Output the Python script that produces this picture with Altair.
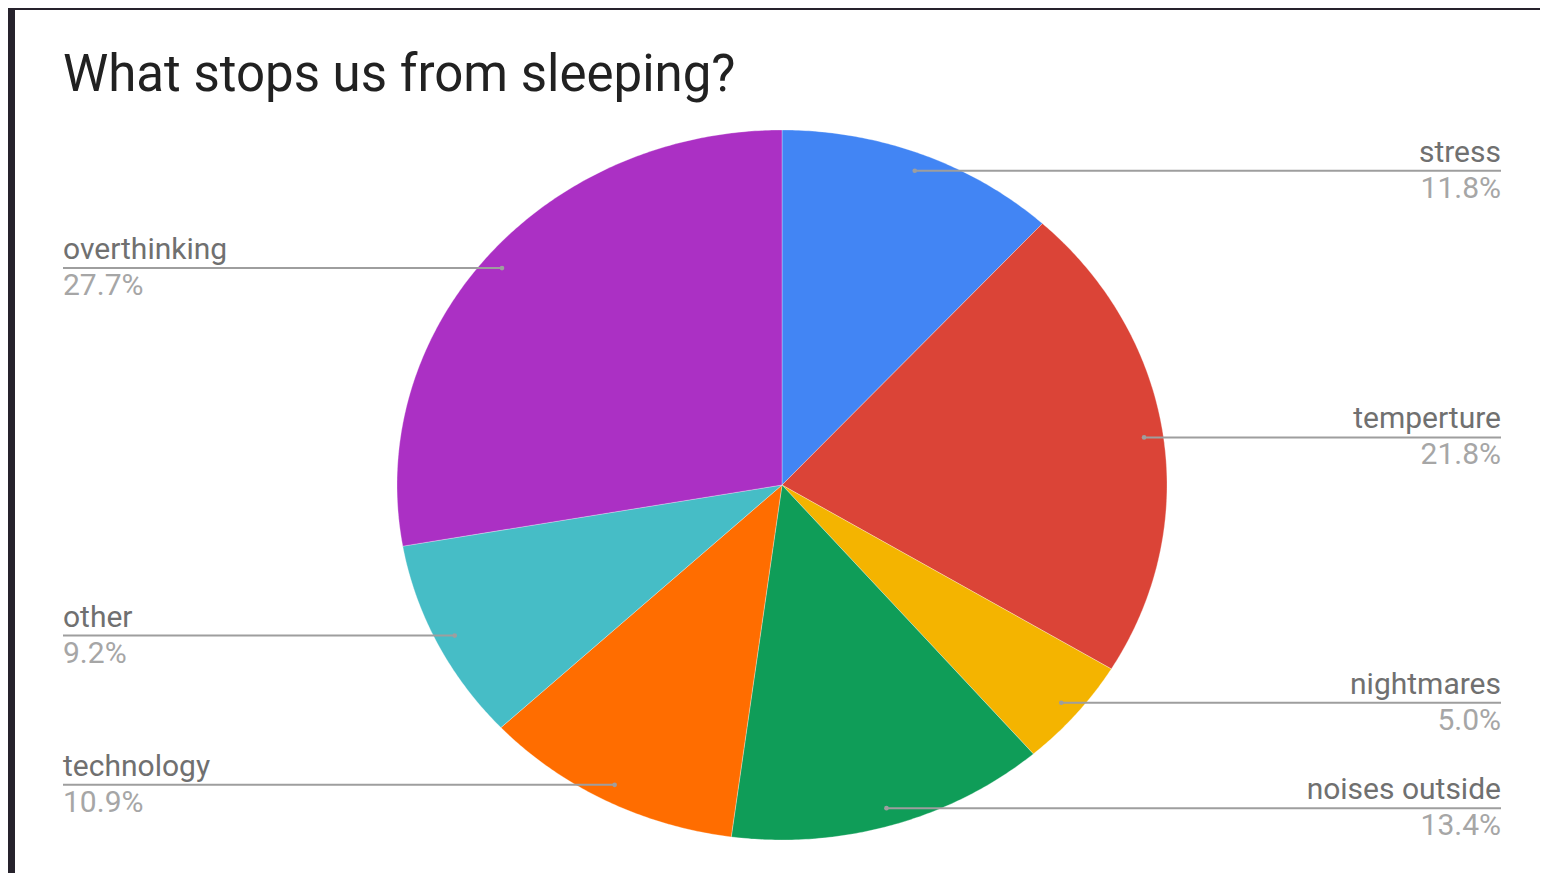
import altair as alt
import numpy as np
import pandas as pd

title_text = "What stops us from sleeping?"
categories = ["stress", "temperture", "nightmares", "noises outside", "technology", "other", "overthinking"]
values = [11.8, 21.8, 5.0, 13.4, 10.9, 9.2, 27.7]
colors = ["#4285F4", "#DB4437", "#F4B400", "#0F9D58", "#FF6D00", "#46BDC6", "#AB30C4"]
sides = ["right", "right", "right", "right", "left", "left", "left"]

# layout (plot-area pixels)
W, H, P = 1532, 765, 100
CX, CY, RX, RY = 774.0, 377.0, 385.0, 355.0
DOT_R = 0.95
LEFT_X, RIGHT_X = 55.0, 1493.0

vals = np.array(values, dtype=float)
frac = vals / vals.sum()
ends = np.cumsum(frac)
starts = ends - frac


def pt(f, r=1.0):
    a = 2 * np.pi * f
    return [float(CX + r * RX * np.sin(a)), float(CY - r * RY * np.cos(a))]


features = []
for name, s, e in zip(categories, starts, ends):
    n = max(4, int((e - s) * 720))
    ring = [[CX, CY]] + [pt(f) for f in np.linspace(s, e, n + 1)] + [[CX, CY]]
    features.append({
        "type": "Feature",
        "properties": {"name": name},
        "geometry": {"type": "Polygon", "coordinates": [ring]},
    })

rows = []
for name, v, s, e, side in zip(categories, values, starts, ends, sides):
    dx, dy = pt((s + e) / 2, DOT_R)
    rows.append({
        "name": name,
        "pct": f"{v:.1f}%",
        "dot_x": dx,
        "dot_y": dy,
        "lab_x": RIGHT_X if side == "right" else LEFT_X,
        "side": side,
    })
labels = pd.DataFrame(rows)

color_scale = alt.Scale(domain=categories, range=colors)

pie = alt.Chart(alt.Data(values=features)).mark_geoshape(
    strokeWidth=0.6, stroke="white", strokeOpacity=0.5
).encode(
    color=alt.Color("properties.name:N", scale=color_scale, legend=None)
)

base = alt.Chart(labels)

lines = base.mark_rule(color="#9e9e9e", strokeWidth=2).encode(
    longitude="dot_x:Q", latitude="dot_y:Q",
    longitude2="lab_x:Q", latitude2="dot_y:Q",
)
dots = base.mark_circle(color="#9e9e9e", opacity=1, size=22).encode(
    longitude="dot_x:Q", latitude="dot_y:Q"
)

txt_common = dict(font="Roboto", fontSize=30, baseline="alphabetic")
NAME_DY, PCT_DY = -9, 27

name_r = base.transform_filter(alt.datum.side == "right").mark_text(
    align="right", dy=NAME_DY, color="#707070", **txt_common
).encode(longitude="lab_x:Q", latitude="dot_y:Q", text="name:N")
pct_r = base.transform_filter(alt.datum.side == "right").mark_text(
    align="right", dy=PCT_DY, color="#a6a6a6", **txt_common
).encode(longitude="lab_x:Q", latitude="dot_y:Q", text="pct:N")
name_l = base.transform_filter(alt.datum.side == "left").mark_text(
    align="left", dy=NAME_DY, color="#707070", **txt_common
).encode(longitude="lab_x:Q", latitude="dot_y:Q", text="name:N")
pct_l = base.transform_filter(alt.datum.side == "left").mark_text(
    align="left", dy=PCT_DY, color="#a6a6a6", **txt_common
).encode(longitude="lab_x:Q", latitude="dot_y:Q", text="pct:N")

# dark backdrop edges (left and top strips around the white card)
left_strip = alt.Chart(labels).mark_rect(color="#26222c").encode(
    x=alt.value(0), x2=alt.value(7), y=alt.value(-P), y2=alt.value(H)
)
top_strip = alt.Chart(labels).mark_rect(color="#26222c").encode(
    x=alt.value(0), x2=alt.value(W), y=alt.value(-P), y2=alt.value(-P + 2)
)

chart = alt.layer(
    left_strip, top_strip, pie, lines, dots, name_r, pct_r, name_l, pct_l
).project(
    type="identity", scale=1, translate=[0, 0]
).properties(
    width=W,
    height=H,
    padding={"left": 0, "right": 0, "top": P, "bottom": 0},
    autosize=alt.AutoSizeParams(type="none"),
    background="white",
    title=alt.Title(
        title_text, anchor="start", dx=55, dy=150, fontSize=51, font="Roboto",
        fontWeight="normal", color="#212121", baseline="alphabetic",
        offset=16, frame="group",
    ),
).configure_view(stroke=None)

chart.save("out.html", embed_options={"renderer": "svg", "actions": False})
